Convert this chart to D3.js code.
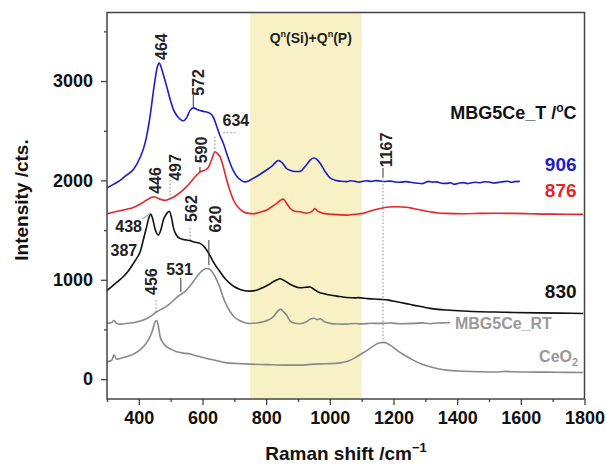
<!DOCTYPE html>
<html><head><meta charset="utf-8">
<script src="https://cdn.jsdelivr.net/npm/d3@7"></script>
<style>
html,body{margin:0;padding:0;background:#fff;}
text{font-family:"Liberation Sans",Arial,sans-serif;font-weight:bold;}
</style></head>
<body><svg id="c" width="606" height="465"></svg>
<script>
// ---- data (Raman shift /cm^-1, intensity /cts.) ----
const s906 = [[300,1925],[320,1960],[341,2000],[360,2050],[383,2110],[404,2230],[420,2380],[435,2640],[448,2950],[458,3140],[464,3180],[472,3120],[480,3030],[488,2940],[498,2820],[509,2710],[520,2650],[530,2615],[540,2600],[550,2630],[561,2705],[572,2730],[585,2710],[603,2695],[624,2675],[635,2630],[645,2540],[655,2450],[666,2370],[676,2270],[687,2170],[698,2090],[708,2040],[720,2005],[733,1985],[745,1995],[759,2020],[780,2060],[801,2105],[820,2150],[838,2200],[850,2180],[864,2120],[877,2100],[890,2090],[906,2090],[925,2150],[940,2210],[950,2225],[960,2210],[969,2175],[985,2090],[1001,2025],[1020,2000],[1035,1992],[1053,1988],[1065,1996],[1080,1990],[1092,1983],[1100,1988],[1115,1996],[1130,1990],[1145,1998],[1158,1994],[1172,1989],[1190,1993],[1205,1984],[1220,1982],[1240,1988],[1262,1977],[1275,1972],[1290,1968],[1300,1980],[1310,1990],[1322,1983],[1336,1985],[1350,1972],[1367,1970],[1380,1976],[1390,1962],[1405,1972],[1420,1978],[1432,1968],[1440,1972],[1455,1982],[1472,1977],[1486,1986],[1500,1984],[1515,1974],[1530,1980],[1545,1988],[1560,1992],[1570,1982],[1580,1988],[1597,1990]];
const s876 = [[300,1665],[320,1680],[341,1695],[362,1710],[383,1728],[404,1760],[425,1803],[440,1830],[448,1836],[460,1820],[472,1805],[483,1800],[493,1810],[505,1825],[519,1853],[535,1893],[550,1937],[566,1995],[582,2054],[595,2090],[603,2098],[612,2110],[620,2140],[630,2220],[639,2289],[647,2270],[655,2239],[665,2140],[676,2004],[687,1890],[697,1803],[712,1730],[728,1685],[745,1668],[760,1665],[780,1680],[802,1702],[820,1740],[833,1769],[845,1800],[854,1812],[863,1775],[875,1720],[890,1690],[906,1685],[927,1670],[945,1690],[953,1718],[962,1690],[980,1668],[1010,1658],[1053,1651],[1080,1660],[1105,1668],[1130,1695],[1158,1718],[1185,1732],[1210,1735],[1240,1730],[1262,1718],[1290,1700],[1315,1685],[1340,1672],[1367,1668],[1420,1665],[1472,1668],[1520,1670],[1550,1668],[1576,1668],[1630,1665],[1681,1661],[1740,1660],[1796,1658]];
const s830 = [[300,890],[320,947],[340,1000],[351,1030],[365,1080],[383,1165],[393,1215],[404,1280],[414,1400],[425,1540],[432,1630],[437,1662],[443,1620],[451,1510],[461,1450],[469,1500],[477,1601],[486,1660],[496,1690],[503,1620],[509,1520],[518,1450],[529,1416],[540,1405],[550,1400],[560,1395],[571,1383],[582,1375],[592,1366],[603,1340],[613,1300],[624,1240],[634,1181],[645,1125],[655,1081],[670,1015],[686,963],[700,930],[718,903],[733,890],[749,886],[770,895],[791,923],[810,955],[822,980],[835,1000],[843,1010],[855,995],[870,965],[885,940],[906,920],[925,925],[938,928],[950,905],[965,875],[985,858],[1001,846],[1030,832],[1053,822],[1080,818],[1090,820],[1120,810],[1158,803],[1185,795],[1210,779],[1240,760],[1262,745],[1290,728],[1315,712],[1340,702],[1367,695],[1420,685],[1472,678],[1520,675],[1576,671],[1650,667],[1720,664],[1796,661]];
const sRT = [[300,561],[315,570],[322,590],[330,560],[341,554],[360,560],[383,567],[404,585],[425,611],[440,640],[456,678],[472,705],[488,735],[505,780],[519,823],[531,850],[540,870],[550,896],[560,935],[571,980],[582,1030],[592,1070],[603,1100],[613,1114],[620,1110],[630,1080],[645,997],[655,920],[666,813],[677,735],[687,678],[700,625],[718,587],[733,568],[749,560],[770,565],[791,577],[810,600],[822,627],[835,680],[845,705],[854,680],[864,645],[875,585],[890,562],[906,558],[925,575],[940,605],[950,612],[960,600],[969,607],[985,575],[1001,561],[1025,555],[1053,554],[1080,560],[1100,556],[1130,562],[1158,561],[1190,565],[1220,558],[1262,561],[1290,566],[1315,558],[1340,565],[1367,567],[1378,570]];
const sCeO2 = [[300,174],[315,190],[322,245],[330,200],[341,208],[360,225],[383,252],[400,285],[414,325],[425,370],[435,426],[443,490],[451,577],[456,590],[461,540],[467,426],[475,370],[488,325],[505,295],[519,275],[540,262],[560,255],[571,242],[590,228],[613,208],[640,190],[676,164],[710,157],[749,151],[800,146],[854,141],[906,141],[948,151],[990,155],[1032,164],[1060,185],[1084,225],[1105,265],[1126,309],[1145,350],[1158,366],[1170,370],[1179,362],[1195,330],[1210,292],[1235,240],[1262,191],[1290,150],[1315,124],[1340,105],[1367,91],[1420,80],[1472,74],[1520,72],[1550,78],[1576,74],[1620,72],[1680,70],[1740,68],[1796,67]];

const xTicks = [400,600,800,1000,1200,1400,1600,1800];
const xMinor = [300,500,700,900,1100,1300,1500,1700];
const yTicks = [0,1000,2000,3000];
const yMinor = [500,1500,2500,3500];
const band = [750,1100];

// peak annotations: label, anchor (shift, intensity), rotated?, connector [x, y1, y2, style]
const peaks = [
  {t:"464", x:470, y:3346, r:true},
  {t:"572", x:587, y:2986, r:true, c:[571,2860,2739,"solid"]},
  {t:"634", x:705, y:2601, r:false, c:[639,2440,2306,"dot"], h:[665,706,2480]},
  {t:"446", x:451, y:1999, r:true},
  {t:"497", x:514, y:2130, r:true, c:[498,2004,1803,"dot"]},
  {t:"590", x:595, y:2306, r:true, c:[592,2135,2085,"solid"]},
  {t:"562", x:564, y:1717, r:true, c:[561,1521,1400,"dot"]},
  {t:"620", x:639, y:1611, r:true, c:[620,1400,1148,"solid"]},
  {t:"438", x:368, y:1534, r:false, s:[410,1611,438,1672]},
  {t:"387", x:353, y:1299, r:false},
  {t:"531", x:528, y:1108, r:false, c:[532,1017,876,"solid"]},
  {t:"456", x:441, y:982, r:true, c:[454,796,665,"dot"]},
  {t:"1167", x:1177, y:2306, r:true, c:[1167,2125,2034,"solid"], c2:[1167,2034,393,"dot"]}
];

// ---- chart ----
const svg = d3.select("#c");
const M = {l:107, r:584.5, t:12.5, b:399};
const x = d3.scaleLinear().domain([300,1800]).range([M.l, M.r]);
const y = d3.scaleLinear().domain([-200,3690]).range([M.b, M.t]);

svg.append("rect").attr("x",x(band[0])).attr("y",M.t).attr("width",x(band[1])-x(band[0])).attr("height",M.b-M.t).attr("fill","#f7f1c5");
const bl = svg.append("text").attr("x",x(940)).attr("y",y(3434)+5).attr("text-anchor","middle").attr("font-size",14).attr("fill","#222");
bl.append("tspan").text("Q");
bl.append("tspan").attr("font-size",9).attr("dy",-6).text("n");
bl.append("tspan").attr("dy",6).text("(Si)+Q");
bl.append("tspan").attr("font-size",9).attr("dy",-6).text("n");
bl.append("tspan").attr("dy",6).text("(P)");

const line = d3.line().x(d=>x(d[0])).y(d=>y(d[1])).curve(d3.curveMonotoneX);
const series = [
  {d:sCeO2, c:"#8a8a8a"},
  {d:sRT, c:"#8a8a8a"},
  {d:s830, c:"#111111"},
  {d:s876, c:"#e3262a"},
  {d:s906, c:"#1d1dc8"}
];
series.forEach(s=>svg.append("path").datum(s.d).attr("d",line).attr("fill","none").attr("stroke",s.c).attr("stroke-width",1.6).attr("stroke-linejoin","round"));

// annotations
const ag = svg.append("g");
peaks.forEach(p=>{
  const drawC = c=>ag.append("line").attr("x1",x(c[0])).attr("x2",x(c[0])).attr("y1",y(c[1])).attr("y2",y(c[2]))
      .attr("stroke", c[3]==="dot" ? "#888" : "#333").attr("stroke-width",1).attr("stroke-dasharray", c[3]==="dot" ? "1.5,2" : null);
  if(p.c) drawC(p.c);
  if(p.c2) drawC(p.c2);
  if(p.h) ag.append("line").attr("x1",x(p.h[0])).attr("x2",x(p.h[1])).attr("y1",y(p.h[2])).attr("y2",y(p.h[2])).attr("stroke","#888").attr("stroke-dasharray","1.5,2");
  if(p.s) ag.append("line").attr("x1",x(p.s[0])).attr("y1",y(p.s[1])).attr("x2",x(p.s[2])).attr("y2",y(p.s[3])).attr("stroke","#6a9a9a").attr("stroke-width",1);
  const t = ag.append("text").attr("font-size",16).attr("fill","#222").attr("text-anchor","middle").attr("dy","0.35em").text(p.t);
  if(p.r) t.attr("transform",`translate(${x(p.x)},${y(p.y)}) rotate(-90)`);
  else t.attr("x",x(p.x)).attr("y",y(p.y));
});

// legend texts
const lt = svg.append("text").attr("x",x(1775)).attr("y",y(2679)+6).attr("text-anchor","end").attr("font-size",18).attr("fill","#111");
lt.append("tspan").text("MBG5Ce_T /");
lt.append("tspan").attr("font-size",12).attr("dy",-7).text("o");
lt.append("tspan").attr("dy",7).text("C");
svg.append("text").attr("x",x(1775)).attr("y",y(2165)).attr("dy","0.35em").attr("text-anchor","end").attr("font-size",19).attr("fill","#1d1dc8").text("906");
svg.append("text").attr("x",x(1775)).attr("y",y(1903)).attr("dy","0.35em").attr("text-anchor","end").attr("font-size",19).attr("fill","#e3262a").text("876");
svg.append("text").attr("x",x(1775)).attr("y",y(886)).attr("dy","0.35em").attr("text-anchor","end").attr("font-size",19).attr("fill","#111").text("830");
svg.append("text").attr("x",x(1393)).attr("y",y(564)).attr("dy","0.35em").attr("font-size",16).attr("fill","#999").text("MBG5Ce_RT");
const ce = svg.append("text").attr("x",x(1780)).attr("y",y(222)+5).attr("text-anchor","end").attr("font-size",16).attr("fill","#999");
ce.append("tspan").text("CeO");
ce.append("tspan").attr("font-size",11).attr("dy",4).text("2");

// axes
svg.append("g").attr("transform",`translate(0,${M.b})`).call(d3.axisBottom(x).tickValues(xTicks).tickSize(6).tickPadding(6).tickFormat(d3.format("d")));
svg.append("g").attr("transform",`translate(0,${M.b})`).call(d3.axisBottom(x).tickValues(xMinor).tickSize(3).tickFormat(""));
svg.append("g").attr("transform",`translate(${M.l},0)`).call(d3.axisLeft(y).tickValues(yTicks).tickSize(6).tickPadding(8).tickFormat(d3.format("d")));
svg.append("g").attr("transform",`translate(${M.l},0)`).call(d3.axisLeft(y).tickValues(yMinor).tickSize(3).tickFormat(""));
svg.selectAll(".domain").remove();
svg.selectAll(".tick line").attr("stroke","#444").attr("stroke-width",1.3);
svg.selectAll(".tick text").attr("font-size",18).attr("font-family","Liberation Sans, Arial, sans-serif").attr("font-weight","bold").attr("fill","#111");
svg.append("rect").attr("x",M.l).attr("y",M.t).attr("width",M.r-M.l).attr("height",M.b-M.t).attr("fill","none").attr("stroke","#444").attr("stroke-width",1.5);

svg.append("text").attr("transform",`translate(28,200) rotate(-90)`).attr("text-anchor","middle").attr("font-size",19).attr("fill","#111").text("Intensity /cts.");
const xt = svg.append("text").attr("x",346).attr("y",460).attr("text-anchor","middle").attr("font-size",19).attr("fill","#111");
xt.append("tspan").text("Raman shift /cm");
xt.append("tspan").attr("font-size",13).attr("dy",-8).text("−1");
</script></body></html>
